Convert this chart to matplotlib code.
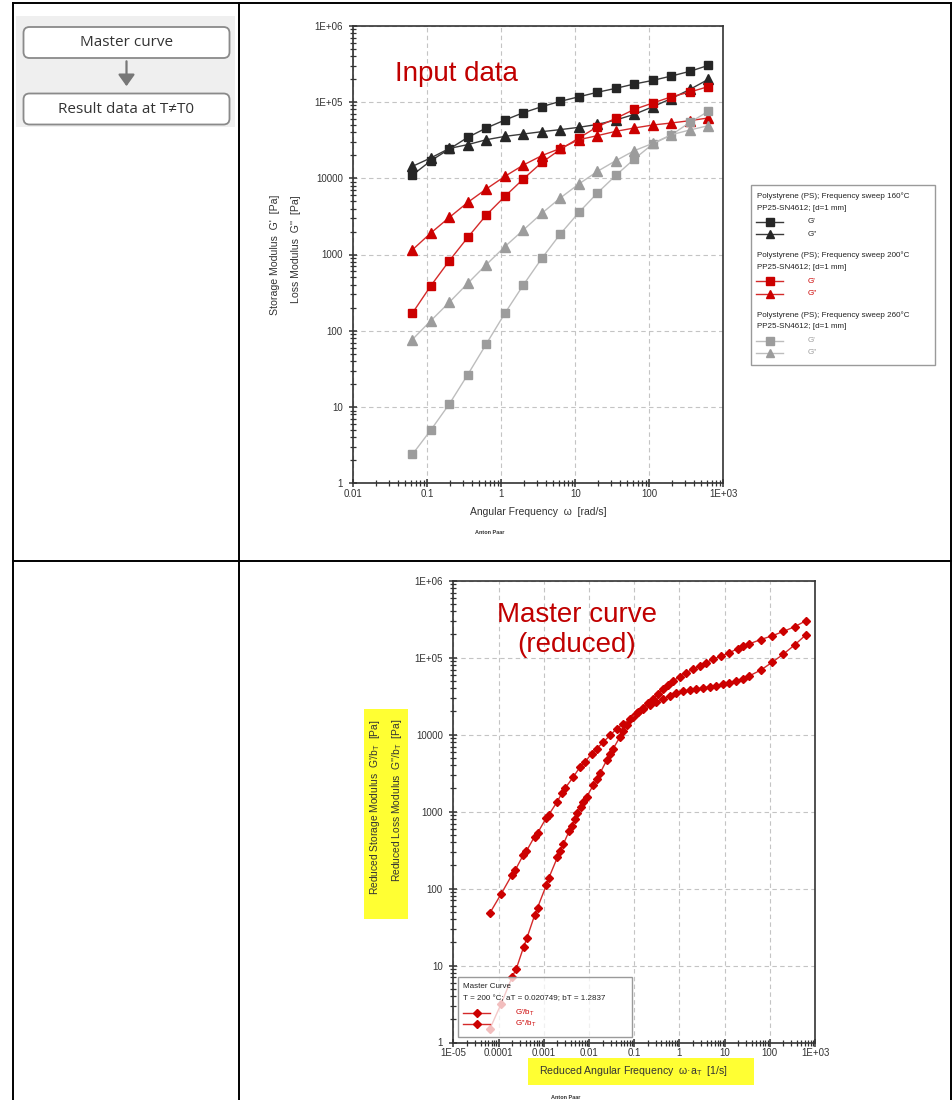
import numpy as np
import matplotlib.pyplot as plt
import matplotlib.transforms as mtransforms
from matplotlib.lines import Line2D
from matplotlib.patches import Rectangle, FancyBboxPatch, FancyArrowPatch
from matplotlib.ticker import LogLocator, NullFormatter

plt.rcParams['font.family'] = ['Liberation Sans', 'DejaVu Sans']
plt.rcParams['mathtext.fontset'] = 'custom'
plt.rcParams['mathtext.rm'] = 'Liberation Sans'
plt.rcParams['mathtext.it'] = 'Liberation Sans:italic'

# ---- input data: frequency sweeps (angular frequency in rad/s) ----
omega = [0.0628, 0.112, 0.199, 0.353, 0.628, 1.12, 1.99, 3.53, 6.28,
         11.2, 19.9, 35.3, 62.8, 112, 199, 353, 628]

g1_160 = [11000, 17000, 24200, 34400, 45600, 58000, 72400, 86800, 102000,
          117000, 134000, 151000, 172000, 192000, 219000, 252000, 302000]
g2_160 = [14300, 18500, 24600, 27600, 32000, 35400, 38000, 40800, 43400,
          46500, 50800, 58000, 68800, 86800, 111000, 146000, 198000]
g1_200 = [170, 391, 832, 1680, 3300, 5790, 9800, 16100, 23900,
          33700, 47400, 61000, 80000, 97000, 117000, 135000, 159000]
g2_200 = [1150, 1920, 3070, 4830, 7240, 10600, 14900, 19800, 24600,
          32000, 36200, 41200, 45600, 49900, 53000, 56900, 61700]
g1_260 = [2.39, 5.02, 11.0, 26.7, 67.3, 170, 400, 891, 1860,
          3570, 6410, 10900, 17900, 28200, 37000, 54000, 75400]
g2_260 = [76.7, 136, 237, 420, 738, 1270, 2100, 3470, 5520,
          8420, 12300, 17000, 23000, 28700, 37200, 42900, 48900]

temps = ["160", "200", "260"]
sweep_colors = ["#262626", "#cc0000", "#9c9c9c"]
line_colors = ["#3a3a3a", "#d42a2a", "#bdbdbd"]

# ---- master curve (reduced) ----
mc_w1 = [6.5e-5, 1.15e-4, 2.0e-4, 2.48e-4, 3.59e-4, 4.27e-4, 6.27e-4, 7.29e-4,
         1.135e-3, 1.3e-3, 2.01e-3, 2.31e-3, 2.73e-3, 3.7e-3, 4.18e-3, 4.94e-3,
         5.38e-3, 6.59e-3, 7.53e-3, 8.95e-3, 0.0125, 0.0149, 0.0175, 0.0247,
         0.0292, 0.0344, 0.0484, 0.0573, 0.0681, 0.0951, 0.1225, 0.158, 0.203,
         0.262, 0.338, 0.436, 0.561, 0.723, 1.02, 1.43, 2.0, 2.8, 3.94, 5.5,
         8.41, 12.8, 19.5, 26.0, 35.3, 62.8, 112, 199, 353, 628]
mc_g1 = [1.52, 3.21, 7.1, 9.12, 17.4, 23.0, 44.8, 56.4,
         110, 138, 255, 312, 381, 568, 658, 804,
         953, 1140, 1320, 1560, 2210, 2620, 3130, 4650,
         5550, 6580, 9290, 11100, 13150, 16800, 19500, 22200, 25500,
         29000, 33700, 39100, 44500, 50000, 56400, 64000, 70800, 78200, 86300, 95300,
         105000, 116000, 131000, 140000, 151000, 172000, 192000, 219000, 252000, 302000]
mc_w2 = [6.5e-5, 1.15e-4, 2.0e-4, 2.36e-4, 3.48e-4, 4.12e-4, 6.28e-4, 7.29e-4,
         1.135e-3, 1.3e-3, 1.95e-3, 2.52e-3, 2.98e-3, 4.53e-3, 6.37e-3, 8.2e-3,
         0.0115, 0.0149, 0.0208, 0.0292, 0.0409, 0.0573, 0.0804, 0.113, 0.158,
         0.22, 0.311, 0.436, 0.611, 0.859, 1.2, 1.69, 2.37, 3.31, 4.65, 6.53,
         9.12, 12.8, 18.0, 25.2, 35.3, 62.8, 112, 199, 353, 628]
mc_g2 = [48.5, 85.7, 152, 175, 269, 305, 474, 524,
         828, 914, 1320, 1730, 2020, 2830, 3810, 4420,
         5680, 6580, 8000, 9770, 11900, 13800, 16000, 18900, 21600,
         24000, 26200, 29000, 32100, 34300, 36400, 37900, 39100, 40300, 41900, 43100,
         45400, 47200, 50000, 53100, 58000, 68800, 86800, 111000, 146000, 198000]

W, H = 953, 1100
fig = plt.figure(figsize=(W / 100, H / 100), dpi=100)
# pixel coordinates, origin top-left
PX = mtransforms.Affine2D().scale(0.01, -0.01).translate(0, H / 100) + fig.dpi_scale_trans


def axes_px(left, top, right, bottom):
    return fig.add_axes([left / W, 1 - bottom / H, (right - left) / W, (bottom - top) / H])


def style_log_axes(ax, xticks, xlabels, yticks, ylabels):
    ax.set_xscale('log')
    ax.set_yscale('log')
    ax.set_xlim(xticks[0], xticks[-1])
    ax.set_ylim(yticks[0], yticks[-1])
    ax.set_xticks(xticks, labels=xlabels)
    ax.set_yticks(yticks, labels=ylabels)
    ax.xaxis.set_minor_locator(LogLocator(base=10, subs=np.arange(2, 10), numticks=20))
    ax.yaxis.set_minor_locator(LogLocator(base=10, subs=np.arange(2, 10), numticks=20))
    ax.xaxis.set_minor_formatter(NullFormatter())
    ax.yaxis.set_minor_formatter(NullFormatter())
    ax.tick_params(which='major', direction='inout', length=6, width=1.1,
                   color='#333333', labelsize=7, labelcolor='#333333')
    ax.tick_params(axis='x', which='major', pad=0.8)
    ax.tick_params(axis='y', which='major', pad=4.5)
    ax.tick_params(which='minor', direction='inout', length=4, width=0.9, color='#333333')
    ax.grid(True, which='major', color='#c4c4c4', linestyle=(0, (4, 3)), linewidth=0.8)
    for s in ax.spines.values():
        s.set_color('#333333')
        s.set_linewidth(1.2)


# ---- table lines ----
for (x0, y0, x1, y1) in [(12.5, 2.5, 950.5, 2.5), (12.5, 2.5, 12.5, 1100),
                         (238.5, 2.5, 238.5, 1100), (950.5, 2.5, 950.5, 1100),
                         (12.5, 561, 950.5, 561)]:
    fig.add_artist(Line2D([x0, x1], [y0, y1], transform=PX, color='black', lw=1.4))

# ---- flowchart ----
fig.add_artist(Rectangle((16, 16), 219, 111, transform=PX, facecolor='#efefef',
                         edgecolor='none'))
for (label, ytop) in [("Master curve", 27), ("Result data at T\u2260T0", 93.5)]:
    fig.add_artist(FancyBboxPatch((23.5, ytop), 206, 31, transform=PX,
                                  boxstyle='round,pad=0,rounding_size=6',
                                  facecolor='white', edgecolor='#8a8a8a', lw=1.3))
    fig.text(126.5, ytop + 16, label, transform=PX, ha='center', va='center',
             fontsize=11, color='#333333', family=['Open Sans', 'DejaVu Sans'])
fig.add_artist(FancyArrowPatch((126.5, 58.5), (126.5, 89), transform=PX,
                               arrowstyle='-|>,head_length=7,head_width=5',
                               color='#777777', lw=1.6, mutation_scale=1))

# ---- top chart: input data ----
ax1 = axes_px(353.3, 25.7, 723.3, 483.3)
style_log_axes(ax1, [0.01, 0.1, 1, 10, 100, 1000],
               ["0.01", "0.1", "1", "10", "100", "1E+03"],
               [1, 10, 100, 1000, 10000, 1e5, 1e6],
               ["1", "10", "100", "1000", "10000", "1E+05", "1E+06"])
sweeps = [(g1_160, g2_160), (g1_200, g2_200), (g1_260, g2_260)]
for (g1, g2), mc, lc in zip(sweeps, sweep_colors, line_colors):
    ax1.plot(omega, g1, color=lc, lw=1.0, marker='s', ms=6, mfc=mc, mec=mc, zorder=3)
    ax1.plot(omega, g2, color=lc, lw=1.0, marker='^', ms=6.5, mfc=mc, mec=mc, zorder=3)

fig.text(395, 81, "Input data", transform=PX, fontsize=20, color='#c00000', va='baseline')
fig.text(275, 195, "Storage Modulus  G'  [Pa]", transform=PX, rotation=90,
         ha='center', va='top', fontsize=7.6, color='#333333')
fig.text(296, 195, "Loss Modulus  G''  [Pa]", transform=PX, rotation=90,
         ha='center', va='top', fontsize=7.6, color='#333333')
fig.text(538, 512, "Angular Frequency  \u03c9  [rad/s]", transform=PX,
         ha='center', va='center', fontsize=7.5, color='#333333')
fig.text(490, 532, "Anton Paar", transform=PX, ha='center', va='center',
         fontsize=4, color='#333333', weight='bold')

# top legend
fig.add_artist(Rectangle((751, 185), 184, 180, transform=PX, facecolor='white',
                         edgecolor='#9a9a9a', lw=1.0))
for i, (t, mc, lc) in enumerate(zip(temps, sweep_colors, line_colors)):
    y0 = 196 + i * 59.5
    fig.text(757, y0, "Polystyrene (PS); Frequency sweep %s\u00b0C" % t, transform=PX,
             fontsize=5.8, va='center', color='#222222')
    fig.text(757, y0 + 12, "PP25-SN4612; [d=1 mm]", transform=PX,
             fontsize=5.8, va='center', color='#222222')
    for j, (mk, lab) in enumerate([('s', "G'"), ('^', "G''")]):
        yy = y0 + 25.7 + j * 12.3
        fig.add_artist(Line2D([756, 783], [yy, yy], transform=PX, color=lc, lw=1.0))
        fig.add_artist(Line2D([769.5], [yy], transform=PX, marker=mk, ms=6,
                              mfc=mc, mec=mc, lw=0))
        fig.text(808, yy, lab, transform=PX, fontsize=5.8, va='center',
                 color=mc if i else '#222222')

# ---- bottom chart: master curve ----
ax2 = axes_px(453.3, 580.7, 815, 1042.5)
style_log_axes(ax2, [1e-5, 1e-4, 1e-3, 1e-2, 0.1, 1, 10, 100, 1000],
               ["1E-05", "0.0001", "0.001", "0.01", "0.1", "1", "10", "100", "1E+03"],
               [1, 10, 100, 1000, 10000, 1e5, 1e6],
               ["1", "10", "100", "1000", "10000", "1E+05", "1E+06"])
ax2.plot(mc_w1, mc_g1, color='#d42a2a', lw=1.0, marker='D', ms=4.5,
         mfc='#cc0000', mec='#cc0000', zorder=3)
ax2.plot(mc_w2, mc_g2, color='#d42a2a', lw=1.0, marker='D', ms=4.5,
         mfc='#cc0000', mec='#cc0000', zorder=3)

for k, line in enumerate(["Master curve", "(reduced)"]):
    fig.text(577, 622 + k * 30, line, transform=PX, fontsize=20, color='#c00000',
             ha='center', va='baseline')

fig.add_artist(Rectangle((363.5, 709), 44.5, 210, transform=PX, facecolor='#ffff33',
                         edgecolor='none'))
fig.text(375, 719, "Reduced Storage Modulus  G'/b$_\\mathregular{T}$  [Pa]", transform=PX,
         rotation=90, ha='center', va='top', fontsize=7.4, color='#333333')
fig.text(397, 719, "Reduced Loss Modulus  G''/b$_\\mathregular{T}$  [Pa]", transform=PX,
         rotation=90, ha='center', va='top', fontsize=7.4, color='#333333')
fig.add_artist(Rectangle((527.5, 1058), 226, 27, transform=PX, facecolor='#ffff33',
                         edgecolor='none'))
fig.text(539, 1071, "Reduced Angular Frequency  \u03c9\u00b7a$_\\mathregular{T}$  [1/s]",
         transform=PX, ha='left', va='center', fontsize=7.6, color='#333333')
fig.text(566, 1095, "Anton Paar", transform=PX, ha='center', va='top',
         fontsize=4, color='#333333', weight='bold')

# bottom legend (semi transparent)
fig.add_artist(Rectangle((457.5, 977), 174, 60, transform=PX, facecolor='white',
                         alpha=0.75, edgecolor='none'))
fig.add_artist(Rectangle((457.5, 977), 174, 60, transform=PX, facecolor='none',
                         edgecolor='#9a9a9a', lw=1.0))
fig.text(463, 987, "Master Curve", transform=PX, fontsize=5.8, va='center', color='#222222')
fig.text(463, 998.5, "T = 200 \u00b0C; aT = 0.020749; bT = 1.2837", transform=PX,
         fontsize=5.8, va='center', color='#222222')
for j, lab in enumerate(["G'/b$_\\mathregular{T}$", "G''/b$_\\mathregular{T}$"]):
    yy = 1012.5 + j * 11.7
    fig.add_artist(Line2D([463, 490], [yy, yy], transform=PX, color='#d42a2a', lw=1.0))
    fig.add_artist(Line2D([477], [yy], transform=PX, marker='D', ms=4.5,
                          mfc='#cc0000', mec='#cc0000', lw=0))
    fig.text(515, yy, lab, transform=PX, fontsize=5.8, va='center', color='#cc0000')

fig.savefig('out.png', dpi=100)
